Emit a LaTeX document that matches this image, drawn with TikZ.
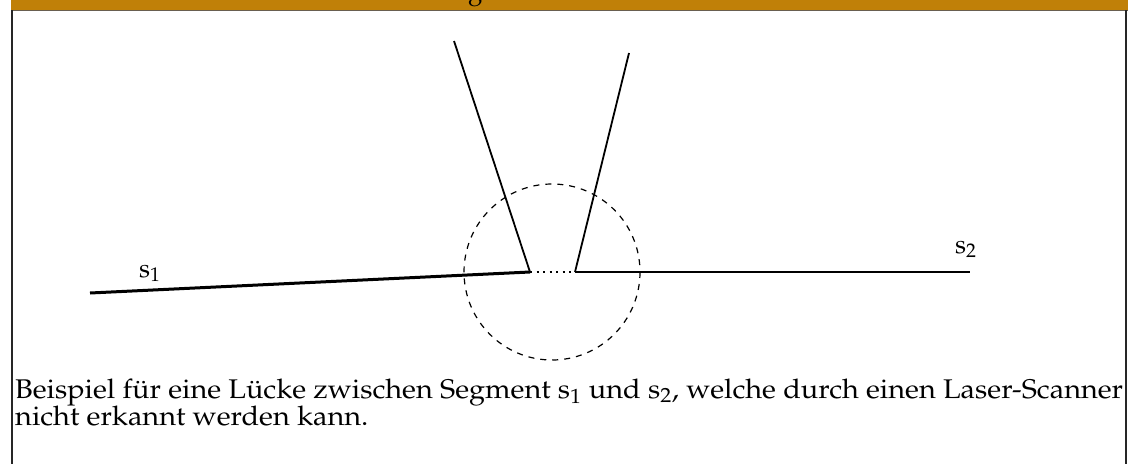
\documentclass[tikz,border=0pt]{standalone}
\usepackage[T1]{fontenc}
\usepackage{mathpazo}
\usetikzlibrary{positioning}
\definecolor{headbar}{RGB}{192,128,8}
\definecolor{headline}{RGB}{105,95,80}
\newcommand{\capline}[1]{\scalebox{1.07}[1]{#1}}
\tikzset{
    segthick/.style={line width=3pt},
    segthin/.style={line width=1.5pt},
    beam/.style={line width=1.8pt},
    gapdots/.style={line width=1.5pt, dash pattern=on 2pt off 4.5pt},
    scanrange/.style={line width=1.2pt, dash pattern=on 6pt off 6pt},
    segname/.style={inner sep=0pt, anchor=base west, font=\fontsize{26}{26}\selectfont},
    captext/.style={inner sep=0pt, anchor=base west, font=\fontsize{27}{27}\selectfont}
}

\begin{document}
\begin{tikzpicture}[x=1pt, y=-1pt]
    \useasboundingbox (0,0) rectangle (1131,464);
    % frame
    \fill[headbar] (11,0) rectangle (1128,9.5);
    \begin{scope}
        \clip (11,0) rectangle (1128,9.5);
        \node[segname] (title) at (468,-1) {g};
    \end{scope}
    \draw[headline, line width=1.5pt] (11,10.5) -- (1128,10.5);
    \draw[black!85, line width=1.5pt] (12,10) -- (12,464) (1126,10) -- (1126,464);

    % segments and beams
    \coordinate (s1start) at (90,293);
    \coordinate (s1end) at (530,272);
    \coordinate (s2start) at (575,272);
    \coordinate (s2end) at (970,272);
    \coordinate (beamleft) at (454,41);
    \coordinate (beamright) at (629,53);
    \coordinate (gapmid) at (552,272);

    \draw[segthick] (s1start) -- (s1end);
    \draw[gapdots] (s1end) -- (s2start);
    \draw[segthin] (s2start) -- (s2end);
    \draw[beam] (beamleft) -- (s1end);
    \draw[beam] (beamright) -- (s2start);
    \draw[scanrange] (gapmid) circle (88);

    \node[segname] (s1) at (139,277) {s$_1$};
    \node[segname] (s2) at (955,253) {s$_2$};

    % caption
    \node[captext] (cap1) at (15,398) {\capline{Beispiel f\"ur eine L\"ucke zwischen Segment s$_1$ und s$_2$, welche durch einen Laser-Scanner}};
    \node[captext] (cap2) at (15,425) {\capline{nicht erkannt werden kann.}};
\end{tikzpicture}
\end{document}
